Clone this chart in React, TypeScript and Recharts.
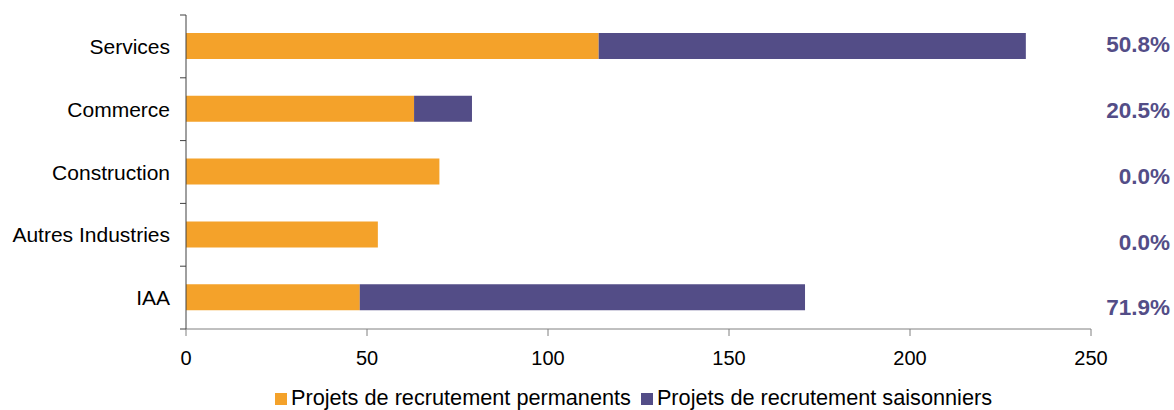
import { BarChart, Bar, XAxis, YAxis, Legend } from "recharts";

const sectors = ["Services", "Commerce", "Construction", "Autres Industries", "IAA"];
const permanents = [114, 63, 70, 53, 48];
const saisonniers = [118, 16, 0, 0, 123];
const shareLabels = ["50.8%", "20.5%", "0.0%", "0.0%", "71.9%"];
const xTicks = [0, 50, 100, 150, 200, 250];

const ORANGE = "#F4A22A";
const PURPLE = "#534D87";
const FONT = "'Liberation Sans', Arial, sans-serif";

const CHART_W = 1174;
const CHART_H = 410;
const PLOT_TOP = 15;
const PLOT_BOTTOM = 329;
const BAND = (PLOT_BOTTOM - PLOT_TOP) / sectors.length;

const data = sectors.map((name, i) => ({
  name,
  permanents: permanents[i],
  saisonniers: saisonniers[i],
}));

// category label + boundary tick marks + share of seasonal jobs on the right
function SectorTick(props: any) {
  const { x, y, payload, index } = props;
  const top = y - BAND / 2;
  const last = index === sectors.length - 1;
  return (
    <g>
      <line x1={x - 6} x2={x} y1={top} y2={top} stroke="#404040" />
      {last && <line x1={x - 6} x2={x} y1={y + BAND / 2} y2={y + BAND / 2} stroke="#404040" />}
      <text
        x={x - 16}
        y={y}
        textAnchor="end"
        dominantBaseline="central"
        fill="#000"
        fontSize={21}
        fontFamily={FONT}
      >
        {payload.value}
      </text>
      <text
        x={CHART_W - 4}
        y={y + (index - 0.6) * 3}
        textAnchor="end"
        dominantBaseline="central"
        fill={PURPLE}
        fontSize={22.5}
        fontWeight="bold"
        fontFamily={FONT}
      >
        {shareLabels[index]}
      </text>
    </g>
  );
}

export default function App() {
  return (
    <div style={{ position: "absolute", left: 0, top: 0, fontFamily: FONT }}>
      <BarChart
        width={CHART_W}
        height={CHART_H}
        data={data}
        layout="vertical"
        margin={{ top: PLOT_TOP, right: 83, left: 0, bottom: 0 }}
      >
        <XAxis
          type="number"
          domain={[0, 250]}
          ticks={xTicks}
          interval={0}
          tickSize={7}
          tickMargin={15}
          height={57}
          stroke="#808080"
          tick={{ fill: "#000", fontSize: 20, fontFamily: FONT }}
        />
        <YAxis
          type="category"
          dataKey="name"
          width={186}
          stroke="#404040"
          tickLine={false}
          tickSize={0}
          tickMargin={0}
          interval={0}
          tick={<SectorTick />}
        />
        <Legend
          verticalAlign="bottom"
          align="center"
          iconType="square"
          iconSize={12}
          wrapperStyle={{ fontSize: 21.7, fontFamily: FONT, left: 186, width: 905, lineHeight: "24px", bottom: 0 }}
          formatter={(value: string) => <span style={{ color: "#000" }}>{value}</span>}
        />
        <Bar
          dataKey="permanents"
          name="Projets de recrutement permanents"
          stackId="a"
          fill={ORANGE}
          barSize={26}
          isAnimationActive={false}
        />
        <Bar
          dataKey="saisonniers"
          name="Projets de recrutement saisonniers"
          stackId="a"
          fill={PURPLE}
          barSize={26}
          isAnimationActive={false}
        />
      </BarChart>
    </div>
  );
}
